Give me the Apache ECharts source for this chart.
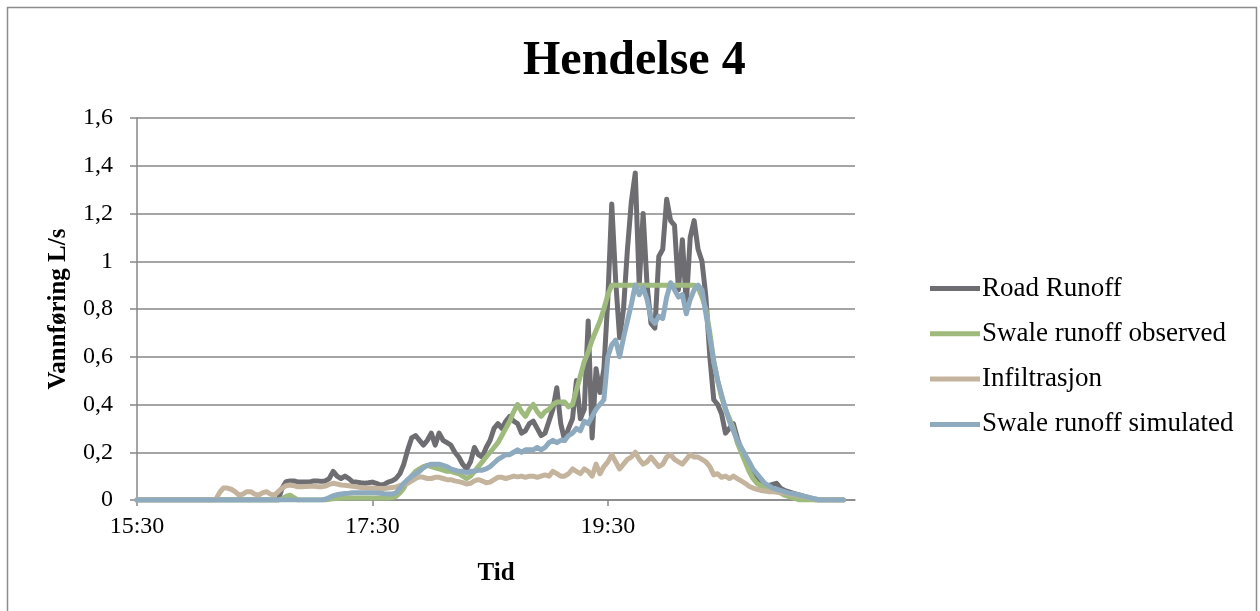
<!DOCTYPE html>
<html>
<head>
<meta charset="utf-8">
<title>Hendelse 4</title>
<script src="https://cdn.jsdelivr.net/npm/echarts@6/dist/echarts.min.js"></script>
<style>
  html, body { margin: 0; padding: 0; background: #ffffff; }
  #chart { width: 1260px; height: 611px; }
</style>
</head>
<body>
<div id="chart"></div>
<script>
// Time stamps: minutes after 15:30, one reading every 2 minutes (15:30 .. 21:30)
const minutes = Array.from({ length: 181 }, (_, i) => i * 2);

// Flow values, L/s
const roadRunoff = [
  0, 0, 0, 0, 0, 0, 0, 0, 0, 0,
  0, 0, 0, 0, 0, 0, 0, 0, 0, 0,
  0, 0, 0, 0, 0, 0, 0, 0, 0, 0,
  0, 0, 0, 0, 0, 0, 0, 0.05, 0.077, 0.08,
  0.08, 0.075, 0.075, 0.075, 0.075, 0.08, 0.08, 0.078, 0.08, 0.09,
  0.12, 0.1, 0.09, 0.1, 0.09, 0.075, 0.075, 0.072, 0.07, 0.072,
  0.075, 0.07, 0.063, 0.065, 0.075, 0.08, 0.09, 0.11, 0.15, 0.21,
  0.26, 0.27, 0.25, 0.23, 0.25, 0.28, 0.23, 0.28, 0.25, 0.24,
  0.23, 0.2, 0.18, 0.15, 0.13, 0.16, 0.22, 0.19, 0.18, 0.22,
  0.25, 0.3, 0.32, 0.3, 0.33, 0.35, 0.33, 0.32, 0.28, 0.29,
  0.32, 0.33, 0.3, 0.27, 0.28, 0.33, 0.38, 0.47, 0.32, 0.25,
  0.3, 0.34, 0.5, 0.34, 0.38, 0.75, 0.26, 0.55, 0.45, 0.55,
  0.84, 1.24, 0.92, 0.68, 0.8, 1.05, 1.25, 1.37, 0.9, 1.2,
  0.9, 0.74, 0.72, 1.02, 1.05, 1.26, 1.17, 1.15, 0.88, 1.09,
  0.82, 1.1, 1.17, 1.05, 1.0, 0.85, 0.6, 0.42, 0.4, 0.36,
  0.28, 0.3, 0.32, 0.26, 0.21, 0.17, 0.14, 0.11, 0.08, 0.06,
  0.06, 0.06, 0.065, 0.07, 0.05, 0.04, 0.035, 0.03, 0.025, 0.02,
  0.015, 0.01, 0.005, 0, 0, 0, 0, 0, 0, 0,
  0
];

const swaleObserved = [
  0, 0, 0, 0, 0, 0, 0, 0, 0, 0,
  0, 0, 0, 0, 0, 0, 0, 0, 0, 0,
  0, 0, 0, 0, 0, 0, 0, 0, 0, 0,
  0, 0, 0, 0, 0, 0, 0, 0.005, 0.015, 0.02,
  0.01, 0, 0, 0, 0, 0, 0, 0, 0, 0.003,
  0.005, 0.006, 0.007, 0.008, 0.008, 0.008, 0.008, 0.008, 0.008, 0.008,
  0.008, 0.008, 0.008, 0.008, 0.008, 0.01, 0.015, 0.03, 0.05, 0.08,
  0.1, 0.12, 0.13, 0.14, 0.145, 0.14, 0.135, 0.13, 0.125, 0.12,
  0.12, 0.115, 0.11, 0.1, 0.09, 0.1, 0.12, 0.14, 0.16, 0.18,
  0.2, 0.22, 0.24, 0.27, 0.3, 0.33, 0.37, 0.4, 0.37, 0.35,
  0.38, 0.4, 0.37, 0.35, 0.37, 0.38, 0.4, 0.41, 0.41, 0.41,
  0.39, 0.4, 0.46, 0.52, 0.58, 0.62, 0.67, 0.71, 0.75, 0.8,
  0.86, 0.9, 0.9, 0.9, 0.9, 0.9, 0.9, 0.9, 0.9, 0.9,
  0.9, 0.9, 0.9, 0.9, 0.9, 0.9, 0.9, 0.9, 0.9, 0.9,
  0.9, 0.9, 0.9, 0.89, 0.85, 0.8, 0.7, 0.58, 0.5, 0.43,
  0.38, 0.34, 0.3, 0.24, 0.2, 0.16, 0.12, 0.09, 0.07, 0.06,
  0.05, 0.045, 0.04, 0.035, 0.03, 0.02, 0.015, 0.01, 0.005, 0,
  0, 0, 0, 0, 0, 0, 0, 0, 0, 0,
  0
];

const infiltration = [
  0, 0, 0, 0, 0, 0, 0, 0, 0, 0,
  0, 0, 0, 0, 0, 0, 0, 0, 0, 0,
  0, 0.03, 0.05, 0.05, 0.045, 0.035, 0.02, 0.025, 0.035, 0.035,
  0.025, 0.02, 0.03, 0.035, 0.025, 0.02, 0.035, 0.05, 0.06, 0.063,
  0.06, 0.055, 0.055, 0.057, 0.058, 0.058, 0.056, 0.055, 0.058, 0.065,
  0.07, 0.067, 0.063, 0.062, 0.06, 0.057, 0.055, 0.052, 0.05, 0.05,
  0.05, 0.049, 0.048, 0.048, 0.05, 0.052, 0.055, 0.06, 0.065, 0.07,
  0.08, 0.09, 0.097, 0.095, 0.09, 0.09, 0.095, 0.095, 0.09, 0.085,
  0.085, 0.08, 0.077, 0.073, 0.067, 0.07, 0.08, 0.085, 0.08, 0.072,
  0.075, 0.085, 0.095, 0.095, 0.09, 0.095, 0.1, 0.097, 0.1, 0.095,
  0.1, 0.1, 0.095, 0.1, 0.105, 0.1, 0.12, 0.11, 0.1, 0.1,
  0.11, 0.13, 0.12, 0.11, 0.13, 0.12, 0.1, 0.15, 0.11, 0.14,
  0.16, 0.19, 0.16, 0.13, 0.15, 0.17, 0.18, 0.2, 0.17, 0.15,
  0.16, 0.18, 0.16, 0.14, 0.15, 0.18, 0.19, 0.17, 0.16, 0.15,
  0.17, 0.19, 0.18, 0.18, 0.17, 0.16, 0.14, 0.105, 0.11, 0.095,
  0.1, 0.09, 0.1, 0.09, 0.08, 0.07, 0.058, 0.05, 0.045, 0.04,
  0.038, 0.035, 0.035, 0.033, 0.03, 0.03, 0.027, 0.024, 0.02, 0.018,
  0.015, 0.012, 0.008, 0.003, 0, 0, 0, 0, 0, 0,
  0
];

const swaleSimulated = [
  0, 0, 0, 0, 0, 0, 0, 0, 0, 0,
  0, 0, 0, 0, 0, 0, 0, 0, 0, 0,
  0, 0, 0, 0, 0, 0, 0, 0, 0, 0,
  0, 0, 0, 0, 0, 0, 0, 0, 0, 0,
  0, 0, 0, 0, 0, 0, 0, 0, 0.003, 0.01,
  0.018, 0.022, 0.025, 0.027, 0.028, 0.03, 0.03, 0.03, 0.03, 0.03,
  0.03, 0.03, 0.028, 0.026, 0.025, 0.025, 0.03, 0.05, 0.07, 0.085,
  0.1, 0.11, 0.12, 0.135, 0.145, 0.15, 0.15, 0.15, 0.145, 0.14,
  0.13, 0.125, 0.12, 0.12, 0.115, 0.12, 0.12, 0.125, 0.125, 0.13,
  0.14, 0.155, 0.17, 0.18, 0.19, 0.19, 0.2, 0.21, 0.2, 0.21,
  0.21, 0.21, 0.22, 0.21, 0.22, 0.24, 0.25, 0.24, 0.25, 0.25,
  0.27, 0.28, 0.3, 0.29, 0.33, 0.32, 0.35, 0.38, 0.4, 0.42,
  0.6, 0.65, 0.67, 0.6, 0.68, 0.75, 0.82, 0.9, 0.86, 0.89,
  0.84, 0.76, 0.74, 0.77, 0.76, 0.85, 0.91, 0.88, 0.85, 0.86,
  0.78, 0.84, 0.88, 0.9, 0.88, 0.78, 0.68, 0.58, 0.5, 0.44,
  0.38, 0.33, 0.29, 0.25, 0.22, 0.19, 0.16, 0.13, 0.11, 0.09,
  0.07, 0.06, 0.05, 0.045, 0.04, 0.035, 0.03, 0.027, 0.024, 0.02,
  0.016, 0.012, 0.008, 0.004, 0, 0, 0, 0, 0, 0,
  0
];

const seriesNames = ['Road Runoff', 'Swale runoff observed', 'Infiltrasjon', 'Swale runoff simulated'];
const seriesColors = ['#6d6d72', '#9fba7d', '#c4b39d', '#8eaabe'];
const seriesValues = [roadRunoff, swaleObserved, infiltration, swaleSimulated];
const xTickMinutes = [0, 120, 240, 360];

const FONT = "'Liberation Serif', 'Times New Roman', serif";
const GRID_COLOR = '#878787';

function clockLabel(m) {
  const total = 15 * 60 + 30 + m;
  const h = Math.floor(total / 60);
  const mm = total % 60;
  return h + ':' + (mm < 10 ? '0' : '') + mm;
}

const chart = echarts.init(document.getElementById('chart'), null, { renderer: 'canvas' });

chart.setOption({
  animation: false,
  backgroundColor: '#ffffff',
  title: {
    text: 'Hendelse 4',
    left: 518,
    top: 33,
    textStyle: { fontFamily: FONT, fontSize: 48, fontWeight: 'bold', color: '#000000' }
  },
  graphic: [{
    type: 'rect',
    shape: { x: 7.5, y: 7.5, width: 1249, height: 640 },
    style: { fill: 'none', stroke: '#8c8c8c', lineWidth: 1.5 },
    silent: true
  }],
  grid: { left: 137, top: 118, right: 405, bottom: 111, containLabel: false },
  legend: {
    orient: 'vertical',
    left: 925,
    top: 270,
    icon: 'rect',
    itemWidth: 50,
    itemHeight: 5,
    itemGap: 18.3,
    data: seriesNames,
    textStyle: { fontFamily: FONT, fontSize: 27, color: '#000000', lineHeight: 27, padding: [0, 0, 0, -3] }
  },
  xAxis: {
    type: 'value',
    min: 0,
    max: 366,
    interval: 120,
    name: 'Tid',
    nameLocation: 'middle',
    nameGap: 61,
    nameTextStyle: { fontFamily: FONT, fontSize: 25, fontWeight: 'bold', color: '#000000' },
    axisLine: { show: true, onZero: false, lineStyle: { color: GRID_COLOR, width: 1.5 } },
    axisTick: { show: true, length: 6, lineStyle: { color: GRID_COLOR, width: 1.5 }, customValues: xTickMinutes },
    axisLabel: {
      fontFamily: FONT, fontSize: 24, color: '#000000', margin: 15,
      customValues: xTickMinutes,
      showMaxLabel: false,
      formatter: v => (v % 120 === 0 ? clockLabel(v) : '')
    },
    splitLine: { show: false }
  },
  yAxis: {
    type: 'value',
    min: 0,
    max: 1.6,
    interval: 0.2,
    name: 'Vannføring L/s',
    nameLocation: 'middle',
    nameGap: 66,
    nameRotate: 90,
    nameTextStyle: { fontFamily: FONT, fontSize: 25, fontWeight: 'bold', color: '#000000' },
    axisLine: { show: true, lineStyle: { color: GRID_COLOR, width: 1.5 } },
    axisTick: { show: true, length: 7, lineStyle: { color: GRID_COLOR, width: 1.5 } },
    axisLabel: {
      fontFamily: FONT, fontSize: 24, color: '#000000', margin: 24,
      formatter: v => String(Math.round(v * 10) / 10).replace('.', ',')
    },
    splitLine: { show: true, lineStyle: { color: GRID_COLOR, width: 1.5 } }
  },
  series: seriesNames.map((name, k) => ({
    name: name,
    type: 'line',
    data: minutes.map((m, i) => [m, seriesValues[k][i]]),
    showSymbol: false,
    symbol: 'none',
    smooth: false,
    color: seriesColors[k],
    lineStyle: { color: seriesColors[k], width: 5, join: 'round', cap: 'round' },
    z: 2 + k
  }))
});
</script>
</body>
</html>
